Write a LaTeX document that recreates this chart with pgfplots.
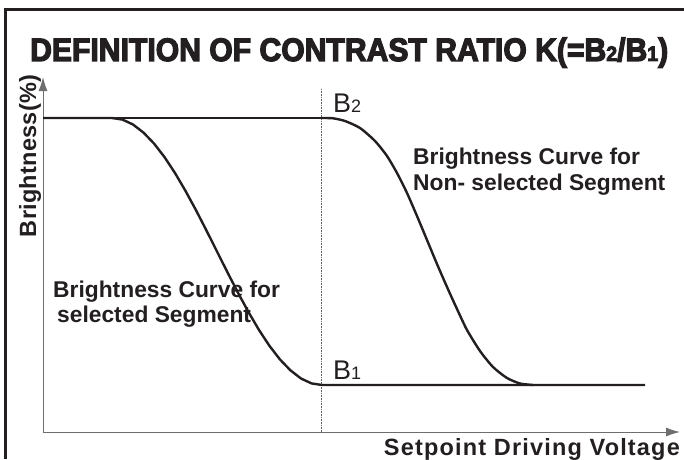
\documentclass[border=0pt]{standalone}
\usepackage{fontspec}
\setmainfont{Liberation Sans}
\newfontfamily\titlefont[FakeBold=4]{Liberation Sans Bold}
\newfontfamily\labelfont[LetterSpace=5]{Liberation Sans Bold}
\newfontfamily\ylabelfont[LetterSpace=1]{Liberation Sans Bold}
\newfontfamily\boldfont{Liberation Sans Bold}
\usepackage{pgfplots}
\pgfplotsset{compat=1.18}
\usetikzlibrary{arrows.meta}
\definecolor{ink}{HTML}{231F20}
\definecolor{axisgray}{HTML}{6D6E70}
\begin{document}
\begin{tikzpicture}[x=1pt,y=1pt]
\useasboundingbox (0,0) rectangle (684,459);
% frame
\draw[ink, line width=3pt] (5,0) -- (5,449) -- (684,449);
% title
\node[anchor=base west, inner sep=0pt, text=ink] at (30,398)
  {\resizebox{638pt}{23.5pt}{\titlefont DEFINITION OF CONTRAST RATIO K(=B{\fontsize{6.5}{7}\selectfont 2}/B{\fontsize{6.5}{7}\selectfont 1})}};
\begin{axis}[
  at={(43pt,27pt)}, anchor=south west,
  scale only axis, width=637pt, height=355pt,
  xmin=43, xmax=680, ymin=0, ymax=355,
  axis x line=bottom, axis y line=left,
  axis line style={draw=axisgray, line width=1pt, -{Latex[length=14pt,width=9pt]}},
  xtick=\empty, ytick=\empty,
  clip=false,
]
\addplot[ink!70, densely dotted, line width=0.6pt] coordinates {(321,0) (321,344)};
% selected segment curve
\addplot[ink, line width=2.4pt, line join=round] coordinates {
(43,314) (112,314) (122.5,312.4) (133,307.5) (143.5,299.4) (154,288.5)
(164.5,274.9) (175,259.0) (185.5,241.1) (196,221.8) (206.5,201.4)
(217,180.5) (227.5,159.6) (238,139.2) (248.5,119.9) (259,102.0)
(269.5,86.1) (280,72.5) (290.5,61.6) (301,53.5) (311.5,48.6) (322,47) (645,47)
};
% non-selected segment curve
\addplot[ink, line width=2.4pt, line join=round, smooth, tension=0.4] coordinates {
(322,314) (333,313.7) (345,311) (360,304) (375,291) (387,276) (397,259)
(407,239) (417,216) (427,192) (437,168) (447,145) (457,123) (467,102)
(480,81) (493,65) (507,54) (520,48.5) (533,47)
};
\addplot[ink, line width=2.4pt] coordinates {(43,314) (322,314)};
\addplot[ink, line width=2.4pt] coordinates {(533,47) (645,47)};
\end{axis}
% axis labels
\node[rotate=90, anchor=base, inner sep=0pt, text=ink] at (36,303)
  {\fontsize{23.5}{26}\ylabelfont Brightness(\%)};
\node[anchor=base east, inner sep=0pt, text=ink] at (680,4)
  {\fontsize{23.5}{26}\labelfont Setpoint Driving Voltage};
% annotations
\node[anchor=base west, inner sep=0pt, text=ink] at (53,162)
  {\fontsize{22.8}{26}\boldfont Brightness Curve for};
\node[anchor=base west, inner sep=0pt, text=ink] at (57,137)
  {\fontsize{22.8}{26}\boldfont selected Segment};
\node[anchor=base west, inner sep=0pt, text=ink] at (413,295)
  {\fontsize{22.8}{26}\boldfont Brightness Curve for};
\node[anchor=base west, inner sep=0pt, text=ink] at (413,269)
  {\fontsize{22.8}{26}\boldfont Non- selected Segment};
\node[anchor=base west, inner sep=0pt, text=ink] at (333,347)
  {\fontsize{27}{30}\selectfont B\fontsize{18}{20}\selectfont 2};
\node[anchor=base west, inner sep=0pt, text=ink] at (333,80)
  {\fontsize{27}{30}\selectfont B\fontsize{18}{20}\selectfont 1};
\end{tikzpicture}
\end{document}
